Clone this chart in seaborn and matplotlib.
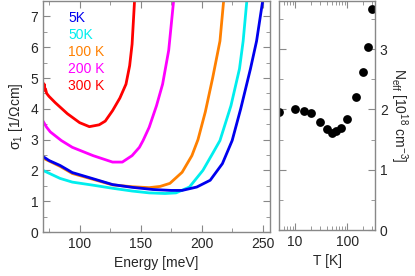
#!/usr/bin/env python3
"""
Optical conductivity sigma_1(E) at several temperatures and N_eff(T).
"""
import pandas as pd
import numpy as np
import matplotlib
matplotlib.use("Agg")
import matplotlib.pyplot as plt
from matplotlib.ticker import (MultipleLocator, LogLocator, NullFormatter,
                               FormatStrFormatter)
import seaborn as sns

# Curve data: energy [meV] and sigma_1 [1/Ohm cm]
e_5k = [70, 75, 84, 94, 111, 127, 143, 160, 175, 184, 196, 207, 217, 225, 232, 240, 245, 250]
s_5k = [2.45, 2.32, 2.16, 1.93, 1.73, 1.54, 1.45, 1.38, 1.35, 1.35, 1.46, 1.68, 2.22, 2.97, 4.0, 5.3, 6.2, 7.5]

e_50k = [70, 84, 94, 111, 127, 143, 157, 170, 179, 190, 201, 209, 215, 224, 231, 234, 237]
s_50k = [2.0, 1.74, 1.62, 1.52, 1.42, 1.33, 1.27, 1.25, 1.27, 1.46, 2.0, 2.55, 2.97, 4.1, 5.3, 6.2, 7.5]

e_100k = [70, 84, 94, 111, 127, 143, 157, 166, 174, 184, 192, 197, 203, 209, 215, 218]
s_100k = [2.4, 2.13, 1.9, 1.71, 1.53, 1.47, 1.44, 1.48, 1.58, 1.94, 2.48, 3.0, 3.9, 5.0, 6.2, 7.5]

e_200k = [70, 73, 76, 85, 94, 111, 127, 135, 143, 149, 152, 157, 163, 168, 173, 177]
s_200k = [3.6, 3.4, 3.25, 2.97, 2.75, 2.48, 2.27, 2.27, 2.48, 2.75, 2.97, 3.4, 4.1, 4.8, 5.9, 7.5]

e_300k = [70, 70.5, 71, 71.5, 72, 73, 75, 80, 90, 100, 108, 116, 121, 127, 133, 138, 141, 143, 145]
s_300k = [4.85, 4.65, 4.8, 4.6, 4.65, 4.5, 4.4, 4.2, 3.84, 3.55, 3.42, 3.48, 3.6, 3.94, 4.35, 4.8, 5.4, 6.1, 7.5]

labels = ["5K", "50K", "100 K", "200 K", "300 K"]
colors = ["#0000ee", "#00eeee", "#ff8000", "#ff00ff", "#ff0000"]

# Effective carrier number vs temperature
temps = [5, 10, 15, 20, 30, 40, 50, 60, 75, 100, 150, 200, 250, 300]
n_eff = [1.96, 2.0, 1.98, 1.94, 1.80, 1.68, 1.61, 1.64, 1.69, 1.85, 2.2, 2.63, 3.03, 3.66]

sns.set_style("ticks")
plt.rcParams['font.family'] = ['Liberation Sans', 'DejaVu Sans']
plt.rcParams['mathtext.default'] = 'regular'
plt.rcParams['font.size'] = 10

curves = pd.concat([
    pd.DataFrame({'energy': e, 'sigma': s, 'T': lab})
    for e, s, lab in zip([e_5k, e_50k, e_100k, e_200k, e_300k],
                         [s_5k, s_50k, s_100k, s_200k, s_300k], labels)
])
neff_df = pd.DataFrame({'T': temps, 'neff': n_eff})

fig = plt.figure(figsize=(4.15, 2.76), dpi=100)
ax1 = fig.add_axes([43 / 415, 1 - 232 / 276, 227 / 415, 231 / 276])
ax2 = fig.add_axes([279 / 415, 1 - 230 / 276, 96 / 415, 229 / 276])

# draw high temperatures first so the 5K curve lies on top
sns.lineplot(data=curves, x='energy', y='sigma', hue='T', palette=colors[::-1],
             hue_order=labels[::-1], sort=False, estimator=None, linewidth=2,
             legend=False, ax=ax1)
ax1.set_xlim(70, 256)
ax1.set_ylim(0, 7.5)
ax1.xaxis.set_major_locator(MultipleLocator(50))
ax1.xaxis.set_minor_locator(MultipleLocator(25))
ax1.yaxis.set_major_locator(MultipleLocator(1))
ax1.yaxis.set_minor_locator(MultipleLocator(0.5))
ax1.set_xlabel('Energy [meV]')
ax1.set_ylabel(r'$\sigma_1$ [1/$\Omega$cm]', labelpad=4)

for i, (lab, col) in enumerate(zip(labels, colors)):
    ax1.text(0.11, 0.925 - i * 0.073, lab, color=col, transform=ax1.transAxes,
             va='center', ha='left', fontsize=10)

sns.scatterplot(data=neff_df, x='T', y='neff', color='black', s=40,
                edgecolor='black', linewidth=0, ax=ax2)
ax2.set_xscale('log')
ax2.set_xlim(4.9, 340)
ax2.set_ylim(0, 3.8)
ax2.xaxis.set_major_locator(LogLocator(base=10, numticks=5))
ax2.xaxis.set_major_formatter(FormatStrFormatter('%d'))
ax2.xaxis.set_minor_locator(LogLocator(base=10, subs=np.arange(2, 10), numticks=20))
ax2.xaxis.set_minor_formatter(NullFormatter())
ax2.yaxis.set_major_locator(MultipleLocator(1))
ax2.yaxis.set_minor_locator(MultipleLocator(0.5))
ax2.set_xlabel('T [K]')
ax2.yaxis.set_label_position('right')
ax2.yaxis.tick_right()
ax2.set_ylabel(r'N$_{eff}$ [10$^{18}$ cm$^{-3}$]', rotation=270, labelpad=16)

for ax in (ax1, ax2):
    for sp in ax.spines.values():
        sp.set_visible(True)
        sp.set_color('#888888')
        sp.set_linewidth(1)
    ax.tick_params(which='both', direction='in', top=True, right=True,
                   left=True, bottom=True, color='#888888', labelsize=10)
    ax.tick_params(which='major', length=5)
    ax.tick_params(which='minor', length=3)

ax2.tick_params(labelleft=False, labelright=True)

fig.savefig('out.png', dpi=100)
